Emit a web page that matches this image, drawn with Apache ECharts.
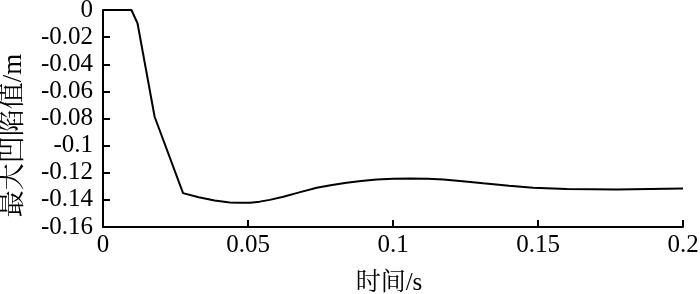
<!DOCTYPE html>
<html><head><meta charset="utf-8">
<script src="https://cdn.jsdelivr.net/npm/echarts@6/dist/echarts.min.js"></script>
<style>html,body{margin:0;padding:0;background:#fff}#c{width:700px;height:294px}</style>
</head><body><div id="c"></div>
<script>
const times = [0, 0.0098, 0.0119, 0.0178, 0.0276, 0.033, 0.0385, 0.0437, 0.047, 0.0507, 0.054, 0.0575, 0.0622, 0.068, 0.0737, 0.079, 0.084, 0.089, 0.0944, 0.1, 0.1059, 0.112, 0.1174, 0.124, 0.1311, 0.14, 0.1483, 0.1598, 0.1771, 0.2];
const depth = [0, 0, -0.0098, -0.0787, -0.135, -0.1380, -0.1405, -0.1419, -0.1422, -0.1421, -0.1413, -0.1400, -0.1377, -0.1343, -0.1311, -0.1290, -0.1274, -0.1260, -0.1249, -0.1244, -0.1242, -0.1244, -0.1249, -0.1262, -0.1278, -0.1296, -0.1310, -0.1320, -0.1323, -0.1316];
const xTicks = [0, 0.05, 0.1, 0.15, 0.2];
const yTicks = [0, -0.02, -0.04, -0.06, -0.08, -0.1, -0.12, -0.14, -0.16];
const xName = '时间/s';
const yName = '最大凹陷值/m';

const font = 'Liberation Serif, Noto Serif CJK SC, Noto Sans CJK SC, serif';
const chart = echarts.init(document.getElementById('c'), null, {renderer: 'canvas'});
chart.setOption({
  animation: false,
  backgroundColor: '#fff',
  grid: {left: 103, right: 17, top: 10, bottom: 67, containLabel: false, outerBoundsMode: 'none'},
  xAxis: {
    type: 'value', min: xTicks[0], max: xTicks[xTicks.length - 1], interval: 0.05,
    name: xName, nameLocation: 'middle', nameGap: 44,
    nameTextStyle: {fontFamily: font, fontSize: 25, color: '#000', padding: [0, 8, 0, 0]},
    axisLine: {show: true, onZero: false, lineStyle: {color: '#000', width: 2}},
    axisTick: {show: true, inside: true, length: 7, lineStyle: {color: '#000', width: 2}},
    axisLabel: {fontFamily: font, fontSize: 25, color: '#000', margin: 6,
      formatter: v => String(+(+v).toFixed(2))},
    splitLine: {show: false}
  },
  yAxis: {
    type: 'value', min: yTicks[yTicks.length - 1], max: yTicks[0], interval: 0.02,
    name: yName, nameLocation: 'middle', nameGap: 76, nameRotate: 90,
    nameTextStyle: {fontFamily: font, fontSize: 27, color: '#000', padding: [0, 34, 0, 0]},
    axisLine: {show: true, onZero: false, lineStyle: {color: '#000', width: 2}},
    axisTick: {show: true, inside: true, length: 7, lineStyle: {color: '#000', width: 2}},
    axisLabel: {fontFamily: font, fontSize: 25, color: '#000', margin: 10,
      formatter: v => String(+(+v).toFixed(2))},
    splitLine: {show: false}
  },
  series: [{
    type: 'line', data: times.map((t, i) => [t, depth[i]]),
    showSymbol: false, smooth: false, lineStyle: {color: '#000', width: 2}
  }]
});
</script></body></html>
